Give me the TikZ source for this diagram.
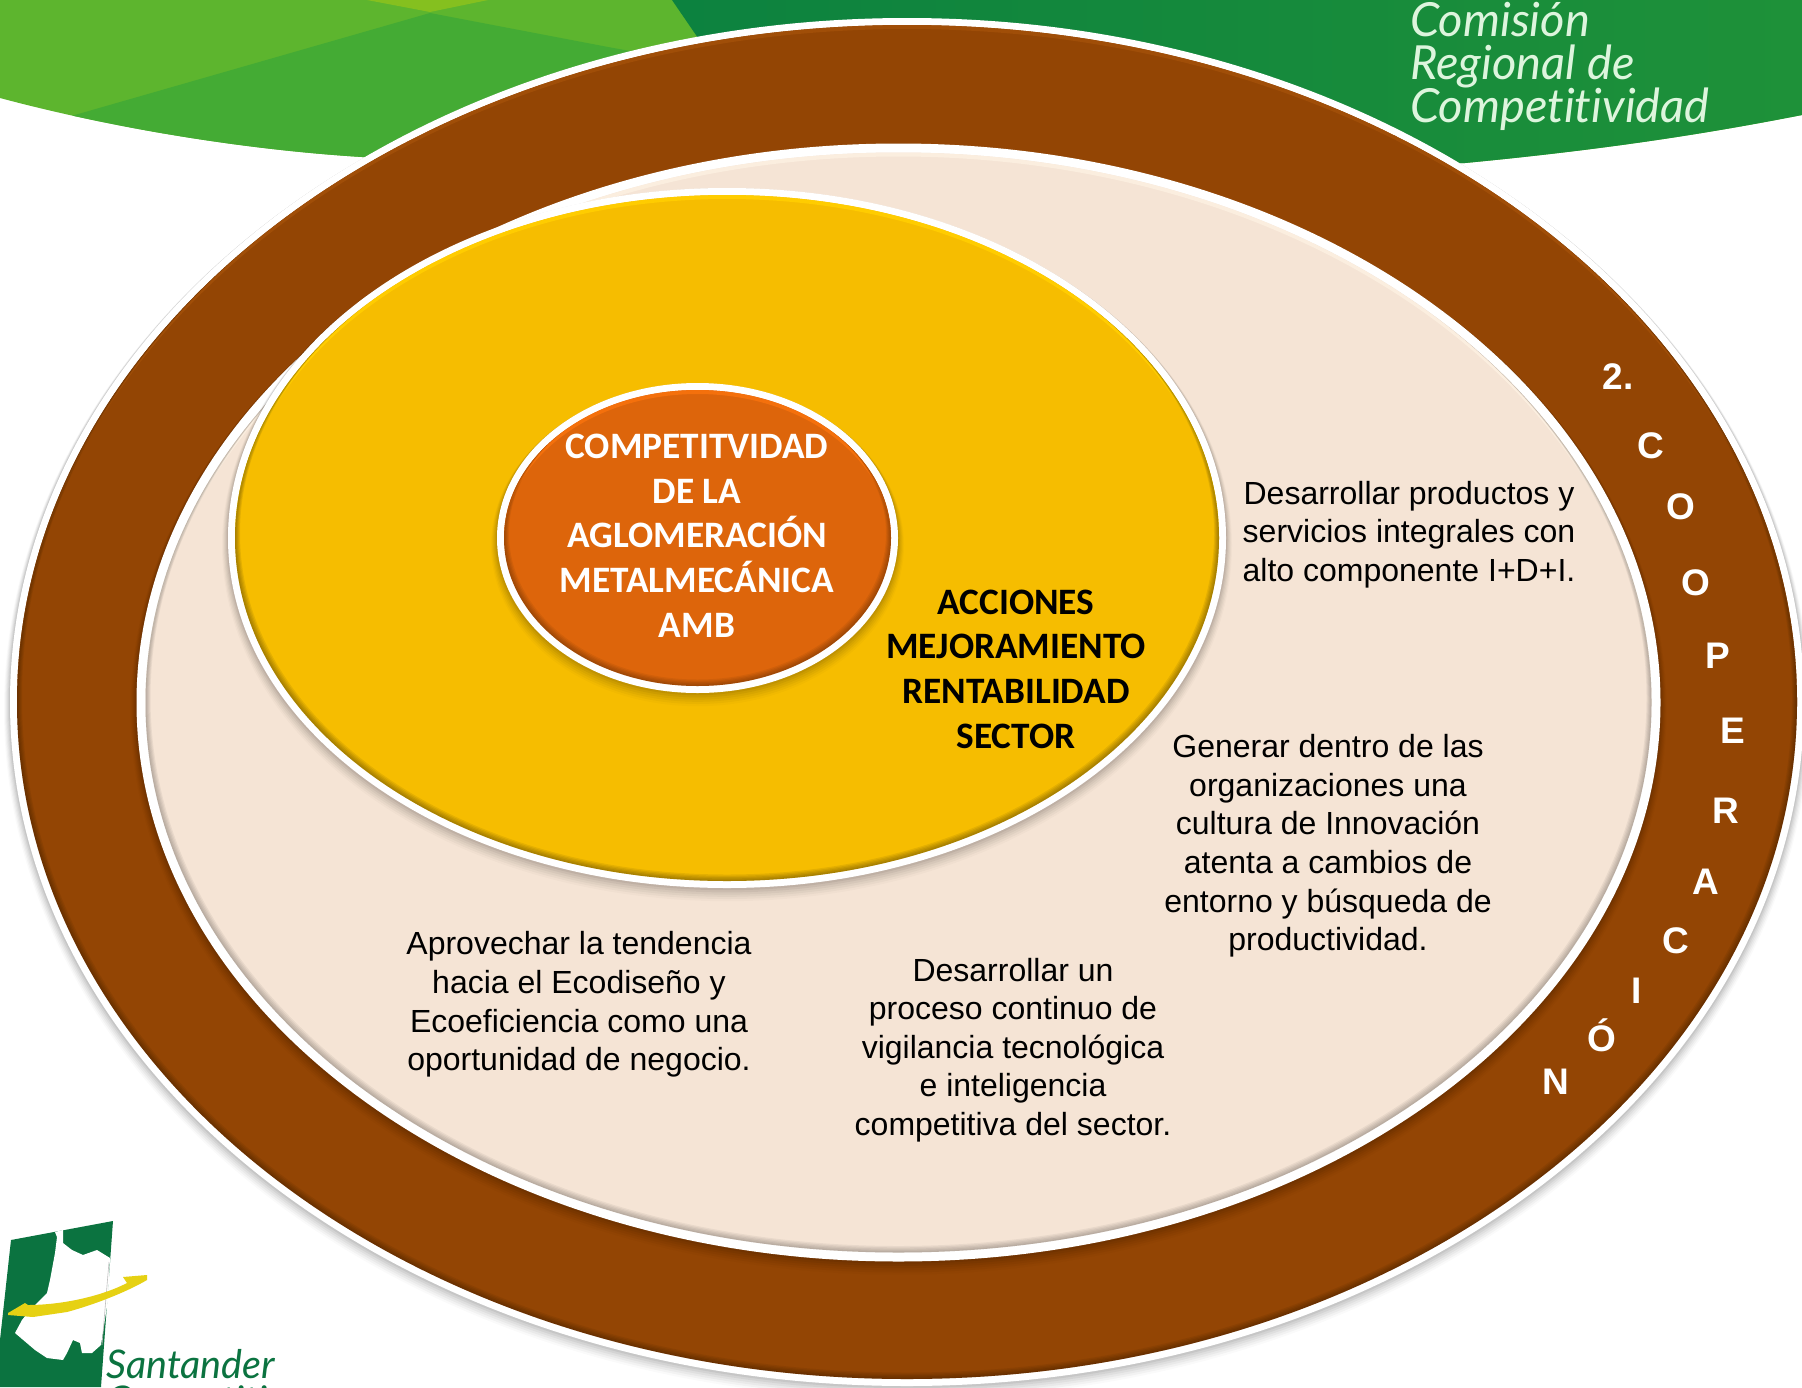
\documentclass[tikz,border=0pt]{standalone}
\usepackage{fontspec}
\setmainfont{Liberation Sans}
\newfontfamily\calib{Carlito}
\newfontfamily\brand[Ligatures=NoCommon]{Lato}
\usetikzlibrary{calc}
\definecolor{brownring}{HTML}{934504}
\definecolor{brownrim}{HTML}{A04E08}
\definecolor{beige}{HTML}{F5E4D5}
\definecolor{beigerim}{HTML}{FBEEDF}
\definecolor{yelloworb}{HTML}{F6BD00}
\definecolor{yellowrim}{HTML}{FFCC00}
\definecolor{orangeorb}{HTML}{DD650B}
\definecolor{orangerim}{HTML}{F4700C}
\definecolor{glight}{HTML}{5DB52E}
\definecolor{gmid}{HTML}{44AB34}
\definecolor{gtop}{HTML}{85C01F}
\definecolor{gdarkA}{HTML}{0C823F}
\definecolor{gdarkB}{HTML}{1E9139}
\definecolor{logogreen}{HTML}{0B7340}
\definecolor{logoyellow}{HTML}{E6D113}
\definecolor{brandpale}{HTML}{DDF5DD}
\newcommand{\softshadow}[4]{% cx cy rx ry
  \foreach \d/\o in {12/.02,10/.03,8/.035,6/.04,4/.05,2/.06}{
    \fill[black,opacity=\o] (#1,#2+.6*\d) ellipse [x radius=#3pt+.5*\d pt, y radius=#4pt+.5*\d pt];
  }}
\newcommand{\orb}[8]{% cx cy rx ry border fill rim insetstrength
  \softshadow{#1}{#2}{#3+#5}{#4+#5}
  \fill[white] (#1,#2) ellipse [x radius=#3pt+#5pt, y radius=#4pt+#5pt];
  \fill[#6] (#1,#2) ellipse [x radius=#3pt, y radius=#4pt];
  \begin{scope}
    \clip (#1,#2) ellipse [x radius=#3pt, y radius=#4pt];
    \fill[#7,even odd rule] (-100,-100) rectangle (1900,1500) (#1,#2+4) ellipse [x radius=#3pt, y radius=#4pt];
    \foreach \d in {1,2,...,5}{
      \fill[black,opacity=#8,even odd rule] (-100,-100) rectangle (1900,1500)
        (#1,#2-.9*\d) ellipse [x radius=#3pt-\d pt, y radius=#4pt-.4*\d pt];
    }
  \end{scope}
}
\tikzset{
  x=1pt,y=-1pt,
  body/.style={align=center,text=black,inner sep=0pt,font=\fontsize{32}{38.6}\selectfont},
  orbtitle/.style={align=center,inner sep=0pt,font=\calib\bfseries\fontsize{37.3}{44.7}\selectfont},
  ringletter/.style={text=white,inner sep=0pt,font=\bfseries\fontsize{37}{40}\selectfont},
  brandtext/.style={anchor=base west,inner sep=0pt,font=\brand\itshape\fontsize{47}{50}\selectfont,text=brandpale},
  logotext/.style={anchor=base west,inner sep=0pt,font=\brand\itshape\fontsize{39.5}{42}\selectfont,text=logogreen},
}
\begin{document}
\begin{tikzpicture}
\useasboundingbox (0,0) rectangle (1802,1387);
\begin{scope}
\clip (0,0) rectangle (1802,1387);
\fill[white] (0,0) rectangle (1802,1387);
% green banner
\begin{scope}
\clip (0,0) -- (1802,0) -- (1802,115) .. controls (1700,135) and (1600,150) .. (1465,163)
  -- (900,190) -- (362,157) .. controls (250,150) and (120,130) .. (0,98) -- cycle;
\fill[glight] (0,0) rectangle (1802,260);
\fill[gmid] (430,13) -- (40,125) -- (40,260) -- (1000,260) -- (1000,118) -- (608,47) -- cycle;
\fill[gtop] (367,0) -- (430,12) -- (488,0) -- cycle;
\shade[left color=gdarkA,right color=gdarkB] (672,0) -- (1802,0) -- (1802,260) -- (850,260) -- cycle;
\end{scope}
% brand text
\node[brandtext] (brand1) at (1410,36) {Comisión};
\node[brandtext] (brand2) at (1410,79) {Regional de};
\node[brandtext] (brand3) at (1410,122) {Competitividad};
% logo
\fill[logogreen] (11,1240) -- (113,1221) -- (101,1387) -- (0,1387) -- (0,1340) -- cycle;
\fill[white] (55,1232) -- (63,1230) -- (63,1243) -- (72,1250) -- (83,1255) -- (97,1250) -- (110,1258)
  -- (108,1300) -- (101,1345) -- (92,1353) -- (82,1353) -- (80,1343) -- (73,1340) -- (67,1353)
  -- (63,1360) -- (47,1358) -- (35,1350) -- (15,1333) -- (22,1320) -- (30,1310) -- (47,1293)
  -- (50,1280) -- (55,1253) -- (57,1237) -- cycle;
\draw[black!25,line width=.6pt] (109,1262) -- (102,1345);
\fill[logoyellow] (8,1313) -- (25,1303) -- (28,1305) .. controls (60,1305) and (100,1297) .. (127,1283)
  -- (123,1277) -- (147,1275) -- (147,1280) .. controls (130,1290) and (100,1303) .. (67,1312)
  -- (33,1317) -- (8,1315) -- cycle;
\node[logotext] (logo1) at (106,1378) {Santander};
\node[logotext] (logo2) at (106,1414) {Competitiva};
% nested ellipses
\orb{907}{702}{890}{677}{7}{brownring}{brownrim}{.06}
\orb{898.5}{702.5}{753}{550}{9}{beige}{beigerim}{.05}
\orb{727}{538}{492}{343}{7}{yelloworb}{yellowrim}{.07}
\orb{697.5}{538}{193.5}{148}{7}{orangeorb}{orangerim}{.06}
% texts
\node[orbtitle,text=white] (core) at (697,535.5) {COMPETITVIDAD\\DE LA\\AGLOMERACIÓN\\METALMECÁNICA\\AMB};
\node[orbtitle,text=black] (acciones) at (1016,669) {ACCIONES\\MEJORAMIENTO\\RENTABILIDAD\\SECTOR};
\node[body] (t1) at (1409,534.5) {Desarrollar productos y\\servicios integrales con\\alto componente I+D+I.};
\node[body] (t2) at (1328,846) {Generar dentro de las\\organizaciones una\\cultura de Innovación\\atenta a cambios de\\entorno y búsqueda de\\productividad.};
\node[body] (t3) at (579,1004.5) {Aprovechar la tendencia\\hacia el Ecodiseño y\\Ecoeficiencia como una\\oportunidad de negocio.};
\node[body] (t4) at (1013,1050) {Desarrollar un\\proceso continuo de\\vigilancia tecnológica\\e inteligencia\\competitiva del sector.};
% ring letters
\node[ringletter] (l0) at (1618,377) {2.};
\node[ringletter] (l1) at (1651,446) {C};
\node[ringletter] (l2) at (1681,507) {O};
\node[ringletter] (l3) at (1696,583) {O};
\node[ringletter] (l4) at (1718,656) {P};
\node[ringletter] (l5) at (1733,731) {E};
\node[ringletter] (l6) at (1726,811) {R};
\node[ringletter] (l7) at (1706,882) {A};
\node[ringletter] (l8) at (1676,941) {C};
\node[ringletter] (l9) at (1637,991) {I};
\node[ringletter] (l10) at (1602,1035) {Ó};
\node[ringletter] (l11) at (1556,1082) {N};
\end{scope}
\end{tikzpicture}
\end{document}
